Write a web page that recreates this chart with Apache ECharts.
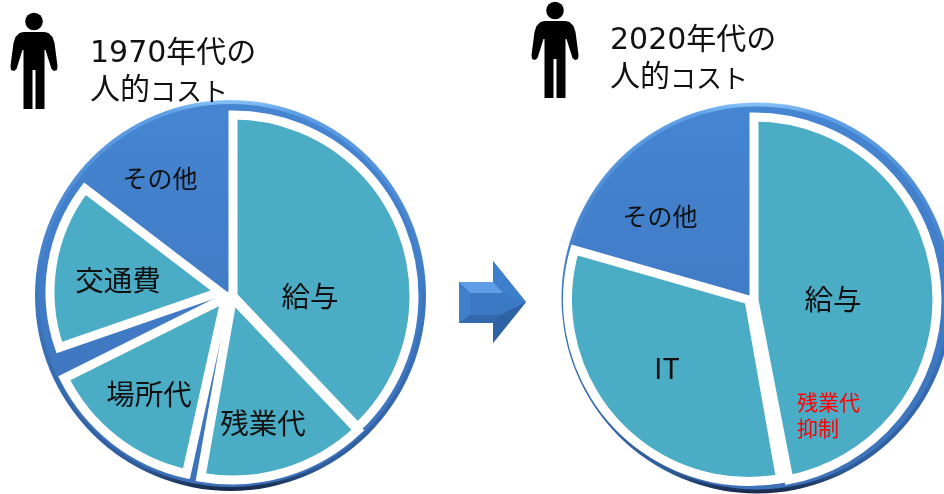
<!DOCTYPE html>
<html>
<head>
<meta charset="utf-8">
<style>
  html, body { margin: 0; padding: 0; background: #fff; }
  #chart { width: 944px; height: 494px; }
</style>
<script src="https://cdn.jsdelivr.net/npm/echarts@6/dist/echarts.min.js"></script>
</head>
<body>
<div id="chart"></div>
<script>
// values in degrees of the circle. '' = uncovered gap
const names1970 = ['給与', '残業代', '', '場所代', '', '交通費', 'その他'];
const values1970 = [136.5, 53.5, 2.5, 51, 7.4, 56.5, 52.6];
const names2020 = ['給与', '', 'IT', 'その他'];
const values2020 = [169, 1, 116, 74];
const title1970 = '1970年代の\n人的{k|コスト}';
const title2020 = '2020年代の\n人的{k|コスト}';
const noteText = '残業代\n抑制';

const FONT = '"DejaVu Sans", "Noto Sans CJK JP", sans-serif';
const JP = '"Noto Sans CJK JP", sans-serif';
const TEAL = '#4bacc6';

// the wedges are pulled apart a little, so each has its own apex and radius
const layout1970 = [
  { center: [233, 296], r: 181, label: [310, 296], size: 28.5 },
  { center: [232.5, 298], r: 182, label: [263, 423], size: 28.5 },
  null,
  { center: [225.4, 298], r: 180, label: [149, 394], size: 28.5 },
  null,
  { center: [220, 292], r: 170, label: [118, 280], size: 28.5 },
  { center: [230, 297], r: 181, label: [160, 178], size: 25, blue: true }
];
const layout2020 = [
  { center: [754, 300], r: 183, label: [833, 299], size: 28.5 },
  null,
  { center: [749, 300], r: 181.5, label: [667, 368], size: 29 },
  { center: [752, 300], r: 182, label: [660, 216], size: 25, blue: true }
];

const vGrad = (stops) => ({
  type: 'linear', x: 0, y: 0, x2: 0, y2: 1,
  colorStops: stops.map((c) => ({ offset: c[0], color: c[1] }))
});

function disc(center, radius, color) {
  return {
    type: 'pie', silent: true, animation: false, center, radius: [0, radius],
    label: { show: false }, labelLine: { show: false },
    itemStyle: { color },
    data: [{ value: 1 }]
  };
}

// one pie series per wedge: the wedge plus an invisible remainder of the circle
function wedges(names, values, layout) {
  const out = [];
  let angle = 0;
  names.forEach((name, i) => {
    const l = layout[i];
    if (l) {
      out.push({
        type: 'pie', silent: true, animation: false, center: l.center, radius: [0, l.r],
        startAngle: 90 - angle, clockwise: true, avoidLabelOverlap: false,
        labelLine: { show: false },
        labelLayout: (p) => p.dataIndex === 0
          ? { x: l.label[0], y: l.label[1], align: 'center', verticalAlign: 'middle' } : {},
        data: [
          {
            name,
            value: values[i],
            label: { show: true, position: 'inside', formatter: '{b}', fontFamily: JP, fontSize: l.size, color: '#111' },
            itemStyle: l.blue
              ? { color: 'rgba(0,0,0,0)', borderWidth: 0 }
              : { color: TEAL, borderColor: '#fff', borderWidth: 9, borderJoin: 'miter' }
          },
          {
            value: 360 - values[i],
            label: { show: false },
            itemStyle: { color: 'rgba(0,0,0,0)', borderWidth: 0 }
          }
        ]
      });
    }
    angle += values[i];
  });
  return out;
}

const rimGrad = vGrad([[0, '#8cc4f7'], [0.03, '#5d9fe6'], [0.5, '#3c78c2'], [0.94, '#2f5c9c'], [1, '#16294a']]);
const faceGrad = vGrad([[0, '#4585d2'], [1, '#3d72ba']]);

const series = [
  disc([230.5, 295.5], 195.5, rimGrad),
  disc([230.5, 295.5], 191.5, faceGrad),
  ...wedges(names1970, values1970, layout1970),
  disc([757, 298], 195.5, rimGrad),
  disc([757, 298], 191.5, faceGrad),
  ...wedges(names2020, values2020, layout2020)
];

// person icon outline, local box 0..47 x 0..97
const BODY = [[13, 20], [34, 20], [38, 21], [42, 25], [44, 31], [47, 54], [46.5, 58], [43.5, 59], [41, 57], [35, 38], [34, 38],
  [34, 97], [25, 97], [25, 58], [22, 58], [22, 97], [13, 97], [13, 38], [12, 38], [6, 57], [3.5, 59], [0.5, 58], [0, 54], [3, 31], [5, 25], [9, 21]];

function person(x, y) {
  return [
    { type: 'circle', x, y, z: 10, silent: true, shape: { cx: 23.5, cy: 9.5, r: 8.8 }, style: { fill: '#000' } },
    { type: 'polygon', x, y, z: 10, silent: true, shape: { points: BODY }, style: { fill: '#000' } }
  ];
}

function title(x, y, text) {
  return {
    type: 'text', x, y, z: 10, silent: true,
    style: {
      text, font: '30px ' + FONT, lineHeight: 37, fill: '#111',
      rich: { k: { fontFamily: JP, fontSize: 26, lineHeight: 37, fill: '#111' } }
    }
  };
}

function poly(points, fill) {
  return { type: 'polygon', z: 10, silent: true, shape: { points }, style: { fill } };
}

const graphic = [
  ...person(10.5, 12),
  ...person(531.5, 1),
  title(90, 36, title1970),
  title(610, 23, title2020),
  { type: 'text', x: 797, y: 389, z: 10, silent: true,
    style: { text: noteText, font: '21px ' + JP, lineHeight: 26, fill: '#ff0000' } },
  // block arrow between the pies
  poly([[459, 282], [493, 282], [493, 261], [526, 302], [493, 343], [493, 323], [459, 323]], '#3b79c4'),
  poly([[459, 282], [494, 282], [503, 293], [470, 293]], '#5f9ee6'),
  poly([[459, 282], [470, 293], [470, 315], [459, 323]], '#3f80cc'),
  poly([[459, 323], [470, 315], [500, 315], [493, 323]], '#3368ad'),
  poly([[526, 302], [493, 343], [493, 323], [500, 315]], '#2f62a5'),
  poly([[493, 261], [526, 302], [503, 293], [493, 282]], '#3f80cc')
];

const chart = echarts.init(document.getElementById('chart'));
chart.setOption({ backgroundColor: '#fff', animation: false, series, graphic });
</script>
</body>
</html>
